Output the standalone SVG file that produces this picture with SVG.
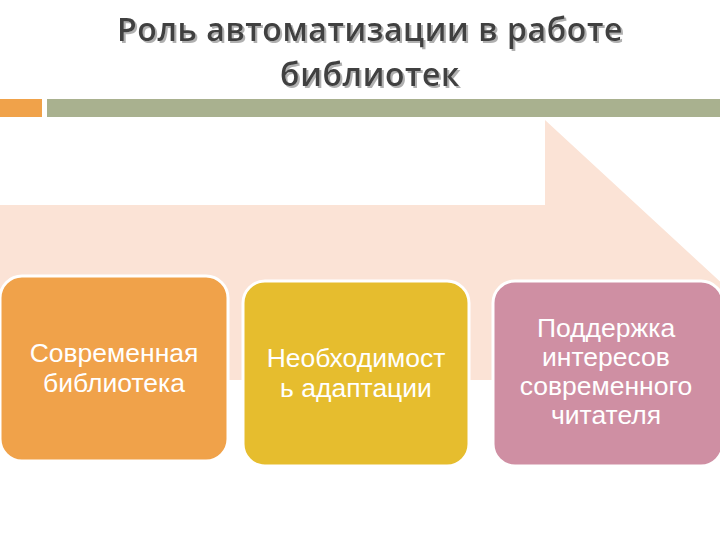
<svg xmlns="http://www.w3.org/2000/svg" width="720" height="540" viewBox="0 0 720 540">
<defs>
<filter id="sh" x="-5%" y="-20%" width="110%" height="140%"><feDropShadow dx="2" dy="2" stdDeviation="0.6" flood-color="#b0b0b0"/></filter>
</defs>
<style>
.t{font-family:"Open Sans","DejaVu Sans",sans-serif;font-weight:600;font-size:32px;fill:#3f3f3f;text-anchor:middle;letter-spacing:0.6px}
.n{font-family:"Liberation Sans",Arial,sans-serif;font-size:26.5px;fill:#ffffff;text-anchor:middle}
.b{stroke:#ffffff;stroke-width:3}
</style>
<rect width="720" height="540" fill="#ffffff"/>
<g id="title" filter="url(#sh)">
<text class="t" x="370" y="41">Роль автоматизации в работе</text>
<text class="t" x="370" y="86">библиотек</text>
</g>
<g id="bars">
<rect x="0" y="99" width="42" height="18" fill="#f0a24a"/>
<rect x="47" y="99" width="673" height="18" fill="#a9b18f"/>
</g>
<g id="connectors">
<path d="M0 205 H545 V120 L740 300 L545 460 V380 H0 Z" fill="#fbe3d6"/>
</g>
<g id="n1">
<rect class="b" x="0" y="276" width="228" height="185" rx="22" fill="#f0a24a"/>
<text class="n" x="114" y="362">Современная</text>
<text class="n" x="114" y="392">библиотека</text>
</g>
<g id="n2">
<rect class="b" x="243" y="281" width="226" height="185" rx="22" fill="#e6bd2e"/>
<text class="n" x="356" y="367">Необходимост</text>
<text class="n" x="356" y="397">ь адаптации</text>
</g>
<g id="n3">
<rect class="b" x="493" y="281" width="230" height="185" rx="22" fill="#cf8fa3"/>
<text class="n" x="606" y="337">Поддержка</text>
<text class="n" x="606" y="366">интересов</text>
<text class="n" x="606" y="395">современного</text>
<text class="n" x="606" y="424">читателя</text>
</g>
</svg>
